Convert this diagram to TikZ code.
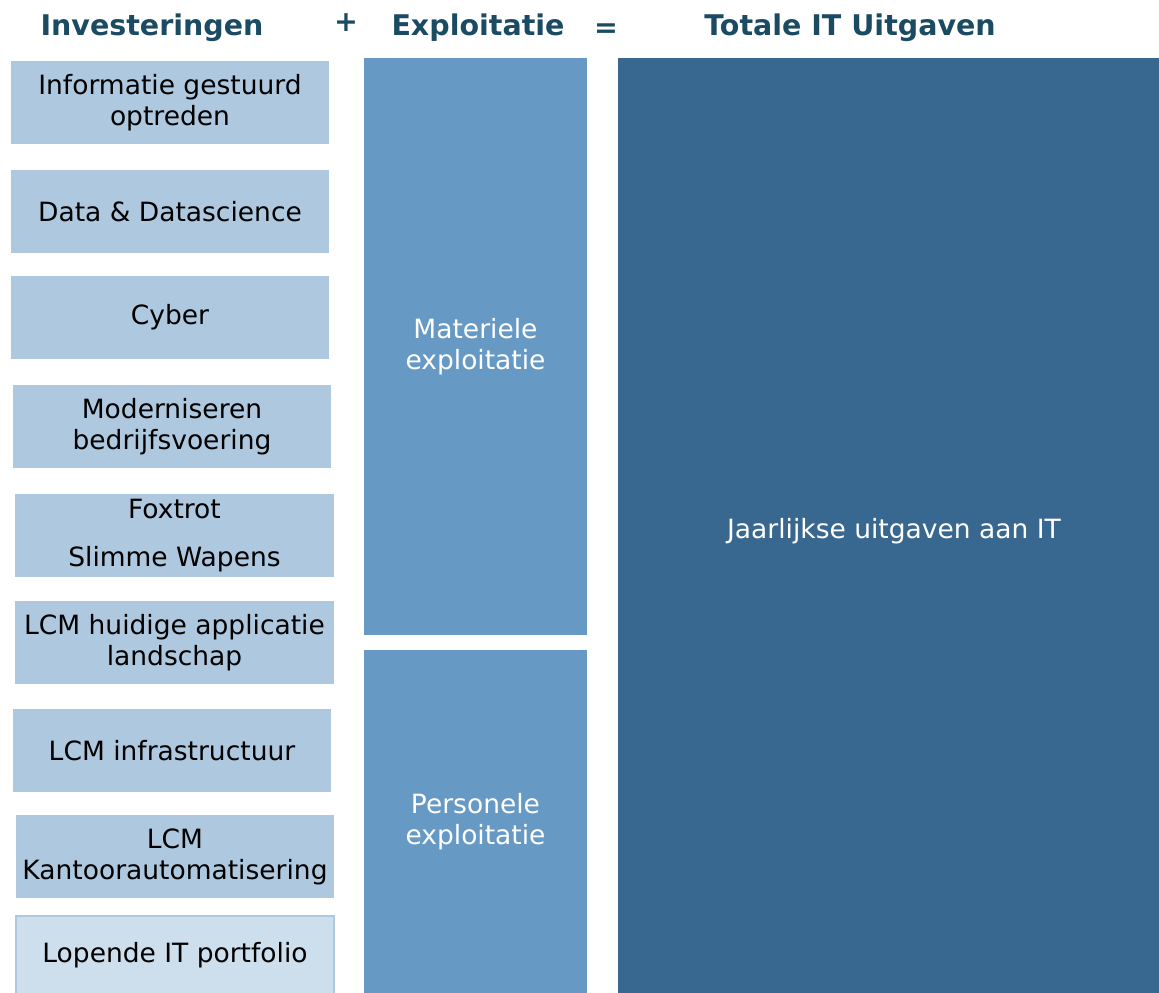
\documentclass[tikz,border=0pt]{standalone}
\usepackage{fontspec}
\setmainfont{DejaVu Sans}
\usetikzlibrary{positioning}

\definecolor{headblue}{HTML}{1B4B63}
\definecolor{lightblue}{HTML}{ADC8DF}
\definecolor{paleblue}{HTML}{CDDEEC}
\definecolor{midblue}{HTML}{6699C4}
\definecolor{darkblue}{HTML}{38688F}

\begin{document}
\begin{tikzpicture}[x=1pt,y=-1pt]

\tikzset{invbox/.style = {shape=rectangle,fill=lightblue,inner sep=0pt,minimum width=318pt,minimum height=83pt,align=center,font=\fontsize{26.5}{31}\selectfont}}
\tikzset{expbox/.style = {shape=rectangle,fill=midblue,inner sep=0pt,minimum width=223pt,align=center,text=white,font=\fontsize{26.5}{31}\selectfont}}
\tikzset{head/.style = {text=headblue,font=\bfseries\fontsize{28.5}{32}\selectfont}}

\useasboundingbox (0,0) rectangle (1159,993);

%headers
\node[head] (inv) at (152,28) {Investeringen};
\node[head] (plus) at (346,23) {+};
\node[head] (exp) at (478,28) {Exploitatie};
\node[head] (eq) at (606,31) {=};
\node[head] (tot) at (850,28) {Totale IT Uitgaven};

%investeringen
\node[invbox] (igo) at (170,102.5) {Informatie gestuurd\\optreden};
\node[invbox] (data) at (170,211.5) {Data \& Datascience};
\node[invbox] (cyber) at (170,317.5) {Cyber};
\node[invbox] (mbv) at (172,426.5) {Moderniseren\\bedrijfsvoering};
\node[invbox, minimum width=319pt] (fox) at (174.5,535.5) {Foxtrot\\[17pt]Slimme Wapens};
\node[invbox, minimum width=319pt] (lcmapp) at (174.5,642.5) {LCM huidige applicatie\\landschap};
\node[invbox] (lcminf) at (172,750.5) {LCM infrastructuur};
\node[invbox] (lcmka) at (175,856.5) {LCM\\Kantoorautomatisering};
\node[invbox, fill=paleblue, draw=lightblue, line width=1.5pt, minimum width=318pt, minimum height=79pt] (lop) at (175,955.5) {Lopende IT portfolio};

%exploitatie
\node[expbox, minimum height=577pt] (mat) at (475.5,346.5) {Materiele\\exploitatie};
\node[expbox, minimum height=343pt] (pers) at (475.5,821.5) {Personele\\exploitatie};

%totaal
\node[expbox, fill=darkblue, minimum width=541pt, minimum height=935pt] (jaar) at (888.5,525.5) {};
\node[text=white, font=\fontsize{26.5}{31}\selectfont] (jaartxt) at (894,531) {Jaarlijkse uitgaven aan IT};

\end{tikzpicture}
\end{document}
